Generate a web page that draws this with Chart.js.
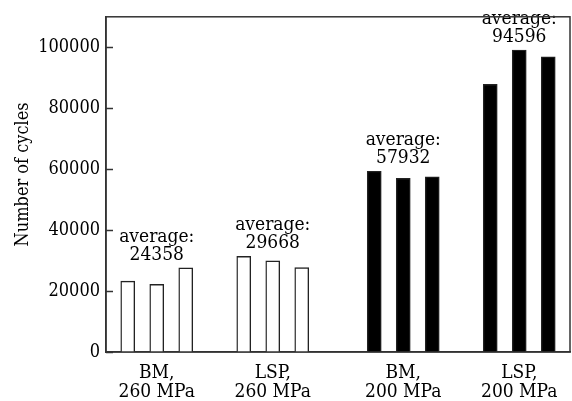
<!DOCTYPE html>
<html>
<head>
<meta charset="utf-8">
<script src="https://cdn.jsdelivr.net/npm/chart.js@4.4.1/dist/chart.umd.min.js"></script>
<style>
  html, body { margin: 0; padding: 0; background: #fff; }
  #wrap { width: 572px; height: 401px; }
</style>
</head>
<body>
<div id="wrap"><canvas id="c" width="572" height="401"></canvas></div>
<script>
// ---- data ----
const categories = [['BM,', '260 MPa'], ['LSP,', '260 MPa'], ['BM,', '200 MPa'], ['LSP,', '200 MPa']];
const stressLevels = ['260 MPa', '260 MPa', '200 MPa', '200 MPa'];
const specimen1 = [23250, 31400, 59300, 87800];
const specimen2 = [22200, 29900, 57000, 99100];
const specimen3 = [27620, 27700, 57500, 96900];
const averages = [24358, 29668, 57932, 94596];
const yTickValues = [0, 20000, 40000, 60000, 80000, 100000];
const yMax = 110000;

const FONT = "'DejaVu Serif Condensed', 'DejaVu Serif', serif";
const INK = '#000';

// group centres on a linear axis (one unit = bar pitch); extra gap between stress levels
const groupPos = [];
(function () {
  let p = 0;
  for (let g = 0; g < categories.length; g++) {
    if (g > 0) p += 4 + (stressLevels[g] !== stressLevels[g - 1] ? 0.5 : 0);
    groupPos.push(p);
  }
})();

const seriesList = [specimen1, specimen2, specimen3];
const datasets = seriesList.map((vals, s) => ({
  label: 'Specimen ' + (s + 1),
  data: vals.map((v, g) => ({ x: groupPos[g] + (s - 1), y: v })),
  backgroundColor: vals.map((v, g) => stressLevels[g] === '260 MPa' ? '#ffffff' : '#000000'),
  borderColor: '#222',
  borderWidth: 1.4,
  borderSkipped: 'bottom',
  barThickness: 14,
  grouped: false
}));

const boxPlugin = {
  id: 'box',
  afterDraw(chart) {
    const { ctx, chartArea: a, scales: { y } } = chart;
    ctx.save();
    ctx.strokeStyle = '#333';
    ctx.lineWidth = 1.5;
    ctx.strokeRect(a.left, a.top, a.right - a.left, a.bottom - a.top);
    // inward tick marks
    yTickValues.forEach(v => {
      const py = Math.round(y.getPixelForValue(v)) + 0.5;
      ctx.beginPath();
      ctx.moveTo(a.left, py);
      ctx.lineTo(a.left + 7, py);
      ctx.stroke();
    });
    ctx.restore();
  }
};

const avgPlugin = {
  id: 'avg',
  afterDatasetsDraw(chart) {
    const { ctx, scales: { x, y } } = chart;
    ctx.save();
    ctx.fillStyle = INK;
    ctx.font = '19px ' + FONT;
    ctx.textAlign = 'center';
    ctx.textBaseline = 'alphabetic';
    categories.forEach((c, g) => {
      const top = Math.max(specimen1[g], specimen2[g], specimen3[g]);
      const cx = x.getPixelForValue(groupPos[g]);
      const base = y.getPixelForValue(top) - 8;
      ctx.fillText(String(averages[g]), cx, base);
      ctx.fillText('average:', cx, base - 18);
    });
    ctx.restore();
  }
};

const titlePlugin = {
  id: 'ytitle',
  afterDraw(chart) {
    const { ctx, chartArea: a } = chart;
    ctx.save();
    ctx.fillStyle = INK;
    ctx.font = '18px ' + FONT;
    ctx.textAlign = 'center';
    ctx.textBaseline = 'middle';
    ctx.translate(23, (a.top + a.bottom) / 2 - 10);
    ctx.rotate(-Math.PI / 2);
    ctx.fillText('Number of cycles', 0, 0);
    ctx.restore();
  }
};

new Chart(document.getElementById('c'), {
  type: 'bar',
  data: { datasets },
  options: {
    responsive: false,
    animation: false,
    layout: { padding: { top: 6, right: 2, left: 0, bottom: 0 } },
    plugins: { legend: { display: false }, tooltip: { enabled: false } },
    scales: {
      x: {
        type: 'linear',
        min: groupPos[0] - 1.75,
        max: groupPos[groupPos.length - 1] + 1.75,
        offset: false,
        grid: { display: false, drawTicks: false },
        border: { display: true, color: '#333', width: 1.5 },
        afterBuildTicks(scale) { scale.ticks = groupPos.map(v => ({ value: v })); },
        afterFit(scale) { scale.height = 49; },
        ticks: {
          autoSkip: false,
          maxRotation: 0,
          padding: 11,
          color: INK,
          font: { family: FONT, size: 19, lineHeight: 1.03 },
          callback(value) {
            const i = groupPos.indexOf(value);
            return i >= 0 ? categories[i] : '';
          }
        }
      },
      y: {
        min: 0,
        max: yMax,
        grid: { display: false, drawTicks: false },
        border: { display: true, color: '#333', width: 1.5 },
        afterBuildTicks(scale) { scale.ticks = yTickValues.map(v => ({ value: v })); },
        afterFit(scale) { scale.width = 106; },
        ticks: {
          padding: 6,
          color: INK,
          font: { family: FONT, size: 18 },
          callback(value) { return String(value); }
        }
      }
    }
  },
  plugins: [boxPlugin, avgPlugin, titlePlugin]
});
</script>
</body>
</html>
